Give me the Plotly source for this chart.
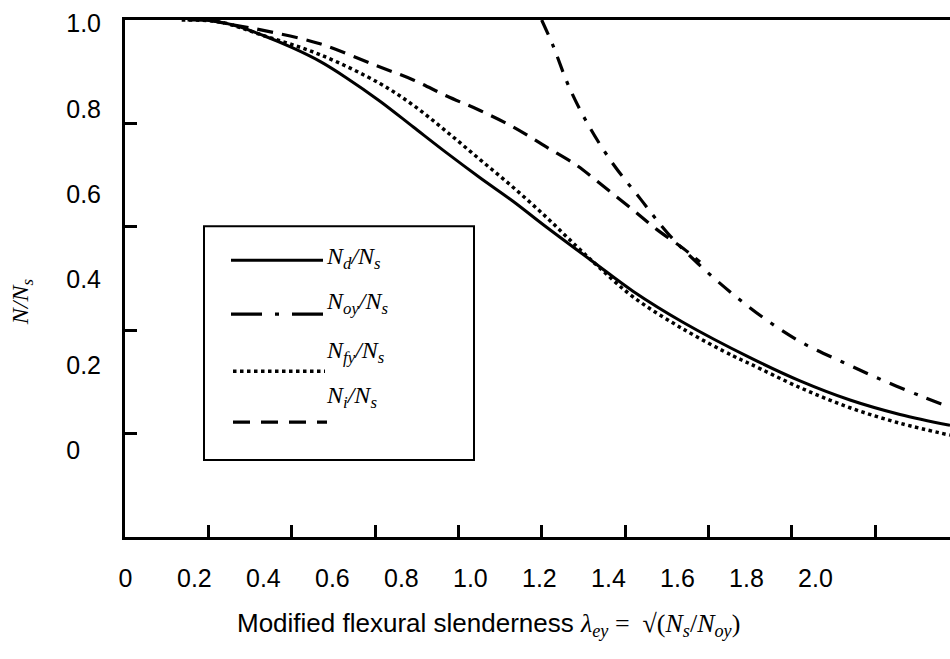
import plotly.graph_objects as go

# ---- data ----
lam_d = [0.15, 0.204, 0.27, 0.332, 0.40, 0.468, 0.53, 0.612, 0.692, 0.772, 0.852, 0.932, 1.004, 1.124, 1.220, 1.340, 1.500, 1.620, 1.740, 1.860, 1.980]
n_d   = [1.000, 0.999, 0.988, 0.970, 0.947, 0.920, 0.889, 0.843, 0.793, 0.743, 0.695, 0.649, 0.604, 0.532, 0.475, 0.415, 0.347, 0.302, 0.265, 0.237, 0.216]

lam_oy = [1.000, 1.027, 1.066, 1.114, 1.171, 1.236, 1.301, 1.375, 1.457, 1.541, 1.627, 1.723, 1.819, 1.915, 1.980]
n_oy   = [1.000, 0.951, 0.870, 0.794, 0.722, 0.655, 0.589, 0.529, 0.471, 0.419, 0.375, 0.338, 0.303, 0.271, 0.251]

lam_fy = [0.136, 0.228, 0.332, 0.468, 0.612, 0.692, 0.772, 0.852, 0.932, 1.012, 1.084, 1.140, 1.220, 1.340, 1.460, 1.500, 1.620, 1.740, 1.860, 1.980]
n_fy   = [1.000, 0.996, 0.970, 0.933, 0.877, 0.835, 0.784, 0.730, 0.676, 0.618, 0.562, 0.520, 0.464, 0.402, 0.350, 0.335, 0.289, 0.250, 0.220, 0.197]

lam_i = [0.200, 0.250, 0.332, 0.468, 0.596, 0.692, 0.772, 0.852, 0.932, 1.012, 1.084, 1.132, 1.220, 1.276, 1.340, 1.380]
n_i   = [1.000, 0.992, 0.980, 0.954, 0.914, 0.884, 0.853, 0.825, 0.793, 0.754, 0.719, 0.689, 0.632, 0.595, 0.558, 0.532]

x_tick_labels = ["0", "0.2", "0.4", "0.6", "0.8", "1.0", "1.2", "1.4", "1.6", "1.8", "2.0"]
y_tick_labels = ["1.0", "0.8", "0.6", "0.4", "0.2", "0"]
x_label_values = [0.0, 0.2, 0.4, 0.6, 0.8, 1.0, 1.2, 1.4, 1.6, 1.8, 2.0]
y_label_values = [1.0, 0.8, 0.6, 0.4, 0.2, 0.0]
x_tick_marks = [0.2, 0.4, 0.6, 0.8, 1.0, 1.2, 1.4, 1.6, 1.8]
y_tick_marks = [0.2, 0.4, 0.6, 0.8]

legend_labels = ["<i>N<sub>d</sub>/N<sub>s</sub></i>", "<i>N<sub>oy</sub>/N<sub>s</sub></i>",
                 "<i>N<sub>fy</sub>/N<sub>s</sub></i>", "<i>N<sub>i</sub>/N<sub>s</sub></i>"]

# ---- styles ----
W, H = 950, 659
ML, MR, MT, MB = 125, 0, 19.5, 122
PW, PH = W - ML - MR, H - MT - MB
SANS = "Liberation Sans, Arial, sans-serif"
SERIF = "Liberation Serif, Times New Roman, serif"
BLACK = "#000000"

DASH_OY = "16px,10px,4px,10px"
DASH_FY = "3.5px,3.5px"
DASH_I = "16px,9px"
SMOOTH = 1.0

def px2paper(px, py):
    return (px - ML) / PW, (H - MB - py) / PH

fig = go.Figure()
fig.add_trace(go.Scatter(x=lam_d, y=n_d, mode="lines", line=dict(color=BLACK, width=3, shape="spline", smoothing=SMOOTH), showlegend=False))
fig.add_trace(go.Scatter(x=lam_oy, y=n_oy, mode="lines", line=dict(color=BLACK, width=3.2, dash=DASH_OY, shape="spline", smoothing=SMOOTH), showlegend=False))
fig.add_trace(go.Scatter(x=lam_fy, y=n_fy, mode="lines", line=dict(color=BLACK, width=3.5, dash=DASH_FY, shape="spline", smoothing=SMOOTH), showlegend=False))
fig.add_trace(go.Scatter(x=lam_i, y=n_i, mode="lines", line=dict(color=BLACK, width=3.2, dash=DASH_I, shape="spline", smoothing=SMOOTH), showlegend=False))
# empty traces so the label axes exist
fig.add_trace(go.Scatter(x=[], y=[], xaxis="x2", yaxis="y", showlegend=False))
fig.add_trace(go.Scatter(x=[], y=[], xaxis="x", yaxis="y2", showlegend=False))

X_RANGE = [0.0, 1.98]
Y_RANGE = [0.0, 1.0]
# label axes (labels drawn at a smaller scale than the tick marks, as in the reference)
X2_RANGE = [-0.001, 2.39]
Y2_RANGE = [-0.2036, 1.0085]

fig.update_layout(
    width=W, height=H,
    margin=dict(l=ML, r=MR, t=MT, b=MB, pad=0),
    paper_bgcolor="white", plot_bgcolor="white",
    showlegend=False,
    xaxis=dict(range=X_RANGE, showgrid=False, zeroline=False, showline=True, linecolor=BLACK, linewidth=2.5,
               mirror=True, ticks="inside", ticklen=12, tickwidth=2.5, tickcolor=BLACK,
               tickvals=x_tick_marks, showticklabels=False),
    yaxis=dict(range=Y_RANGE, showgrid=False, zeroline=False, showline=True, linecolor=BLACK, linewidth=2.5,
               ticks="inside", ticklen=12, tickwidth=2.5, tickcolor=BLACK,
               tickvals=y_tick_marks, showticklabels=False),
    xaxis2=dict(overlaying="x", anchor="y", side="bottom", range=X2_RANGE, showgrid=False, zeroline=False,
                showline=False, ticks="outside", ticklen=19, tickcolor="rgba(0,0,0,0)",
                tickvals=x_label_values, ticktext=x_tick_labels,
                tickfont=dict(family=SANS, size=25, color=BLACK)),
    yaxis2=dict(overlaying="y", anchor="x", side="left", range=Y2_RANGE, showgrid=False, zeroline=False,
                showline=False, ticks="outside", ticklen=18, tickcolor="rgba(0,0,0,0)",
                tickvals=y_label_values,
                ticktext=[t if len(t) == 3 else t + "\u2008\u2007" for t in y_tick_labels],
                tickfont=dict(family=SANS, size=25, color=BLACK)),
)

shapes = []
# legend box
bx0, by0 = px2paper(204, 226)
bx1, by1 = px2paper(474, 460)
shapes.append(dict(type="rect", xref="paper", yref="paper", x0=bx0, y0=by1, x1=bx1, y1=by0,
                   line=dict(color=BLACK, width=2), fillcolor="white", layer="above"))
legend_rows = [
    (260, 231, 323, dict(color=BLACK, width=3)),
    (314, 231, 323, dict(color=BLACK, width=3.2, dash="31px,13px,4px,13px")),
    (371, 233, 325, dict(color=BLACK, width=3.5, dash="3.5px,3.5px")),
    (422, 233, 327, dict(color=BLACK, width=3.2, dash="17px,11px")),
]
for py, xa, xb, ln in legend_rows:
    x0, y0 = px2paper(xa, py)
    x1, _ = px2paper(xb, py)
    shapes.append(dict(type="line", xref="paper", yref="paper", x0=x0, y0=y0, x1=x1, y1=y0, line=ln, layer="above"))
fig.update_layout(shapes=shapes)

annotations = []
label_pos = [(324, 258), (324, 303), (324, 352), (324, 397)]
for (lx, ly), txt in zip(label_pos, legend_labels):
    ax, ay = px2paper(lx, ly)
    annotations.append(dict(xref="paper", yref="paper", x=ax, y=ay, xanchor="left", yanchor="middle",
                            text=txt, showarrow=False, font=dict(family=SERIF, size=24, color=BLACK)))
# axis titles
tx, ty = px2paper(22, 302)
annotations.append(dict(xref="paper", yref="paper", x=tx, y=ty, xanchor="center", yanchor="middle", textangle=-90,
                        text="<i>N/N<sub>s</sub></i>", showarrow=False, font=dict(family=SERIF, size=24, color=BLACK)))
xx, xy = px2paper(488, 625)
annotations.append(dict(xref="paper", yref="paper", x=xx, y=xy, xanchor="center", yanchor="middle",
                        text=("Modified flexural slenderness "
                              "<span style='font-family:Liberation Serif'><i>λ<sub>ey</sub></i> =  "
                              "√(<i>N<sub>s</sub></i>/<i>N<sub>oy</sub></i>)</span>"),
                        showarrow=False, font=dict(family=SANS, size=26, color=BLACK)))
fig.update_layout(annotations=annotations)

fig.write_html("out.html")
